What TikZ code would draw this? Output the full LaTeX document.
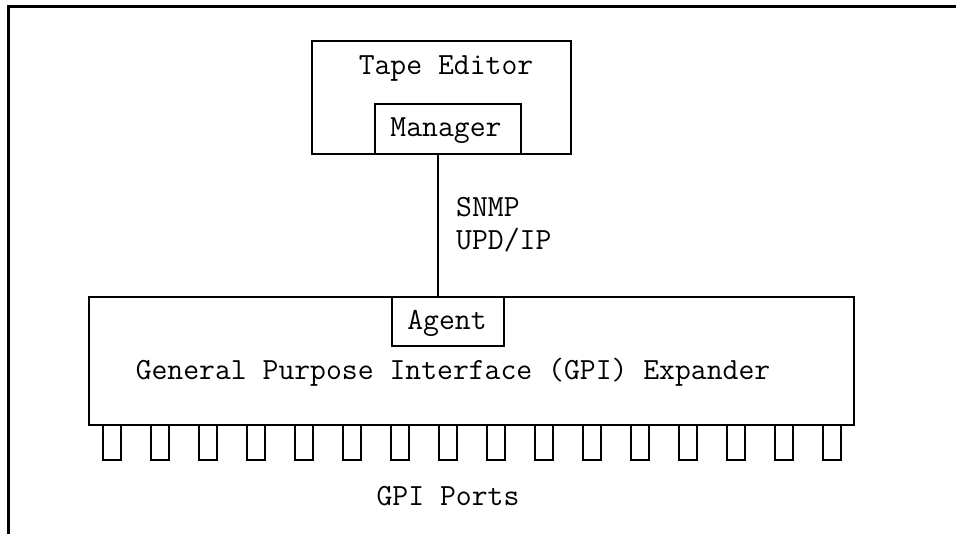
\documentclass[tikz,border=0pt]{standalone}
\usepackage{fontspec}
\begin{document}
\begin{tikzpicture}[x=1pt,y=-1pt,
  box/.style={draw, line width=2.4pt, minimum width=#1, inner sep=0pt, anchor=north west},
  txt/.style={font=\ttfamily\fontsize{30.8}{34}\selectfont, anchor=base, inner sep=0pt},
  port/.style={draw, line width=2.2pt, minimum width=18pt, minimum height=35pt, inner sep=0pt, anchor=north west},
  wire/.style={line width=2.4pt}]
\useasboundingbox (0,0) rectangle (956,534);
% outer frame
\coordinate (fa) at (8,7);
\coordinate (fb) at (956,7);
\coordinate (fc) at (8,534);
\draw[line width=3pt] (fb) -- (fa) -- (fc);
% tape editor
\node[box=259pt, minimum height=113pt] (tape) at (311,40) {};
\node[box=146pt, minimum height=50pt] (mgr) at (374,103) {};
\node[txt] (tapet) at (446,75) {Tape Editor};
\node[txt] (mgrt) at (446,137) {Manager};
% GPI expander
\node[box=765pt, minimum height=128pt] (gpi) at (88,296) {};
\node[box=112pt, minimum height=49pt] (agent) at (391,296) {};
\node[txt] (agentt) at (447,330) {Agent};
\node[txt] (gpit) at (453,380) {General Purpose Interface (GPI) Expander};
% link
\coordinate (lx) at (438,0);
\draw[wire] (lx |- tape.south) -- (lx |- gpi.north);
\node[txt, anchor=base west] (snmp) at (456,217) {SNMP};
\node[txt, anchor=base west] (udp) at (456,250) {UPD/IP};
% ports
\foreach \i in {0,...,15} {
  \node[port] (p\i) at (102+48*\i,424) {};
}
\node[txt] (ports) at (448,505) {GPI Ports};
\end{tikzpicture}
\end{document}
